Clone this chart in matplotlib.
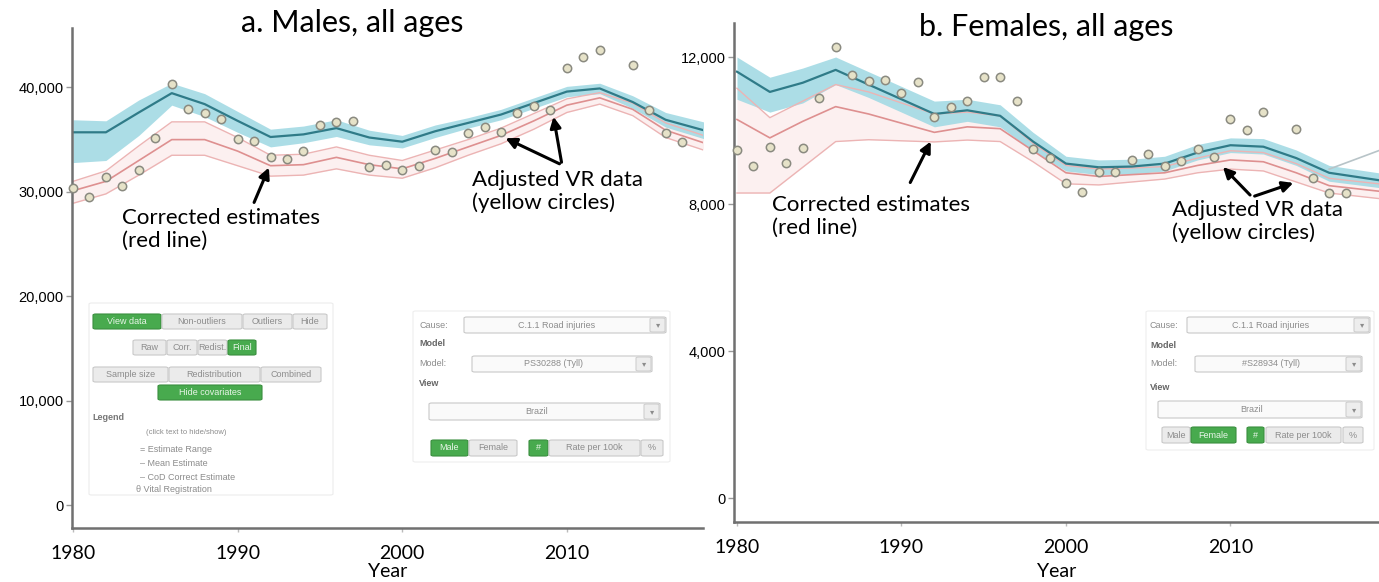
import matplotlib
matplotlib.use("Agg")
import matplotlib.pyplot as plt
from matplotlib.patches import FancyBboxPatch

W, H = 1379, 582

# ---- Males (panel a), deaths ----
male_years = [1980, 1982, 1984, 1986, 1988, 1990, 1992, 1994, 1996, 1998,
              2000, 2002, 2004, 2006, 2008, 2010, 2012, 2014, 2016, 2018.3]
male_mean = [35700, 35700, 37600, 39450, 38400, 36800, 35250, 35500, 36100, 35200,
             34800, 35800, 36600, 37400, 38500, 39600, 39900, 38600, 36900, 35900]
male_hi = [36900, 36800, 38800, 40400, 39400, 37700, 36000, 36300, 36900, 35900,
           35400, 36400, 37100, 37900, 39000, 40100, 40400, 39200, 37600, 36700]
male_lo = [32800, 33000, 35400, 38300, 37200, 35700, 34300, 34700, 35300, 34500,
           34200, 35200, 36100, 36900, 38000, 39100, 39400, 38000, 36200, 35100]
male_red = [30100, 31000, 33000, 35000, 35000, 33900, 32500, 32600, 33300, 32600,
            32200, 33200, 34300, 35400, 36800, 38300, 39000, 37900, 35900, 34700]
male_red_hi = [31000, 32000, 34400, 36700, 36700, 35200, 33500, 33600, 34300, 33500,
               33000, 34000, 35000, 36100, 37500, 38900, 39500, 38500, 36600, 35400]
male_red_lo = [28900, 29800, 31600, 33500, 33500, 32500, 31500, 31600, 32200, 31600,
               31300, 32300, 33500, 34600, 36000, 37600, 38400, 37300, 35200, 34000]
male_vr_years = [1980, 1981, 1982, 1983, 1984, 1985, 1986, 1987, 1988, 1989, 1990,
                 1991, 1992, 1993, 1994, 1995, 1996, 1997, 1998, 1999, 2000, 2001,
                 2002, 2003, 2004, 2005, 2006, 2007, 2008, 2009, 2010, 2011, 2012,
                 2014, 2015, 2016, 2017]
male_vr = [30400, 29500, 31400, 30560, 32090, 35150, 40330, 37930, 37550, 36970, 35060,
           34870, 33330, 33140, 33910, 36400, 36690, 36780, 32380, 32570, 32090, 32470,
           34000, 33810, 35630, 36210, 35730, 37550, 38220, 37840, 41860, 42910, 43580,
           42150, 37840, 35630, 34770]

# ---- Females (panel b) ----
female_years = [1980, 1982, 1984, 1986, 1988, 1990, 1992, 1994, 1996, 1998,
                2000, 2002, 2004, 2006, 2008, 2010, 2012, 2014, 2016, 2019]
female_mean = [11600, 11050, 11300, 11650, 11250, 10850, 10450, 10550, 10400, 9700,
               9100, 9000, 9020, 9100, 9400, 9600, 9560, 9250, 8850, 8650]
female_hi = [12000, 11450, 11700, 12000, 11600, 11200, 10800, 10850, 10700, 9950,
             9300, 9200, 9220, 9300, 9620, 9800, 9780, 9470, 9050, 8850]
female_lo = [10850, 10500, 10750, 11250, 10900, 10500, 10100, 10250, 10100, 9450,
             8900, 8800, 8820, 8900, 9200, 9400, 9360, 9050, 8620, 8450]
# faint upper bound that opens up at the end of the series
female_hi_tail_years = [2016, 2019]
female_hi_tail = [8950, 9450]
female_red = [10300, 9800, 10250, 10650, 10450, 10200, 9950, 10100, 10050, 9450,
              8850, 8750, 8800, 8850, 9050, 9200, 9150, 8850, 8500, 8350]
female_red_hi = [11150, 10350, 10800, 11250, 11050, 10750, 10450, 10500, 10400, 9650,
                 9050, 8950, 8980, 9020, 9250, 9450, 9400, 9100, 8700, 8550]
female_red_lo = [8300, 8300, 9000, 9700, 9750, 9720, 9690, 9740, 9700, 9150,
                 8550, 8520, 8600, 8680, 8850, 8950, 8900, 8600, 8300, 8150]
female_vr_years = [1980, 1981, 1982, 1983, 1984, 1985, 1986, 1987, 1988, 1989, 1990,
                   1991, 1992, 1993, 1994, 1995, 1996, 1997, 1998, 1999, 2000, 2001,
                   2002, 2003, 2004, 2005, 2006, 2007, 2008, 2009, 2010, 2011, 2012,
                   2014, 2015, 2016, 2017]
female_vr = [9470, 9030, 9550, 9120, 9520, 10880, 12270, 11510, 11350, 11370, 11020,
             11320, 10370, 10640, 10800, 11460, 11460, 10800, 9500, 9260, 8570, 8330,
             8870, 8870, 9200, 9360, 9030, 9170, 9500, 9280, 10310, 10010, 10500,
             10040, 8710, 8300, 8300]

x_ticks = [1980, 1990, 2000, 2010]
male_yticks = [0, 10000, 20000, 30000, 40000]
female_yticks = [0, 4000, 8000, 12000]

SANS = ["Lato", "DejaVu Sans"]
ARIAL = ["Liberation Sans", "DejaVu Sans"]

fig = plt.figure(figsize=(W / 100, H / 100), dpi=100)


def px_rect(l, t, r, b):
    return [l / W, 1 - b / H, (r - l) / W, (b - t) / H]


def fx(x):
    return x / W


def fy(y):
    return 1 - y / H


def draw_panel(ax, years, mean, lo, hi, red, red_lo, red_hi, vr_years, vr, yticks,
               labelpad):
    ax.fill_between(years, red_lo, red_hi, color="#fbe6e6", lw=0, alpha=0.6)
    ax.plot(years, red_lo, color="#ecb4b4", lw=1.0)
    ax.plot(years, red_hi, color="#ecb4b4", lw=1.0)
    ax.plot(years, red, color="#de9090", lw=1.2)
    ax.fill_between(years, lo, hi, color="#a3dae4", lw=0, alpha=0.9)
    ax.plot(years, mean, color="#2f7b88", lw=1.6)
    ax.plot(vr_years, vr, "o", ms=6, mfc="#e6e2c8", mec="#8a8a80", mew=1.1,
            clip_on=False, zorder=5)
    for s in ("top", "right"):
        ax.spines[s].set_visible(False)
    for s in ("left", "bottom"):
        ax.spines[s].set_color("#707070")
        ax.spines[s].set_linewidth(1.8)
    ax.set_yticks(yticks)
    ax.set_yticklabels([f"{v:,}" for v in yticks], fontfamily=ARIAL, fontsize=10.5)
    ax.set_xticks(x_ticks)
    ax.set_xticklabels([str(v) for v in x_ticks], fontfamily=SANS, fontsize=14)
    ax.tick_params(axis="y", length=4, width=1, color="#999999", pad=2)
    ax.tick_params(axis="x", length=3, width=1, color="#bbbbbb", pad=9)
    ax.set_xlabel("Year", fontfamily=SANS, fontsize=14, labelpad=labelpad)


axL = fig.add_axes(px_rect(72, 28, 703, 528))
draw_panel(axL, male_years, male_mean, male_lo, male_hi, male_red, male_red_lo,
           male_red_hi, male_vr_years, male_vr, male_yticks, 1)
axL.set_xlim(1979.94, 2018.27)
axL.set_ylim(-2200, 45690)

axR = fig.add_axes(px_rect(734, 23, 1379, 522))
draw_panel(axR, female_years, female_mean, female_lo, female_hi, female_red,
           female_red_lo, female_red_hi, female_vr_years, female_vr, female_yticks, 5)
axR.plot(female_hi_tail_years, female_hi_tail, color="#b8c4c8", lw=1.2)
axR.set_xlim(1979.82, 2019.03)
axR.set_ylim(-650, 12925)

# titles
fig.text(fx(352), fy(23), "a. Males, all ages", fontfamily=SANS, fontsize=22,
         ha="center", va="center")
fig.text(fx(1046), fy(27), "b. Females, all ages", fontfamily=SANS, fontsize=22,
         ha="center", va="center")


# annotations (figure pixel positions)
def arrow(x0, y0, x1, y1):
    fig.add_artist(matplotlib.patches.FancyArrowPatch(
        (fx(x0), fy(y0)), (fx(x1), fy(y1)), transform=fig.transFigure,
        arrowstyle="-|>", mutation_scale=16, lw=2.2, color="black", zorder=10))


fig.text(fx(122), fy(208), "Corrected estimates\n(red line)", fontfamily=SANS,
         fontsize=16, va="top", ha="left", linespacing=1.15)
arrow(253, 205, 270, 165)
fig.text(fx(472), fy(170), "Adjusted VR data\n(yellow circles)", fontfamily=SANS,
         fontsize=16, va="top", ha="left", linespacing=1.15)
arrow(562, 165, 503, 137)
arrow(562, 165, 553, 114)

fig.text(fx(772), fy(195), "Corrected estimates\n(red line)", fontfamily=SANS,
         fontsize=16, va="top", ha="left", linespacing=1.15)
arrow(909, 185, 932, 139)
fig.text(fx(1172), fy(200), "Adjusted VR data\n(yellow circles)", fontfamily=SANS,
         fontsize=16, va="top", ha="left", linespacing=1.15)
arrow(1252, 197, 1221, 165)
arrow(1252, 197, 1296, 182)


# ---- screenshot control widgets ----
def box(l, t, r, b, fc="#ebebeb", ec="#c9c9c9", lw=0.8, rnd=0.002):
    fig.patches.append(FancyBboxPatch(
        (fx(l), fy(b)), (r - l) / W, (b - t) / H,
        boxstyle=f"round,pad=0,rounding_size={rnd}", transform=fig.transFigure,
        fc=fc, ec=ec, lw=lw, zorder=3))


def label(x, y, s, size=6.5, color="#8c8c8c", ha="center", weight="normal"):
    fig.text(fx(x), fy(y), s, fontsize=size, color=color, ha=ha, va="center",
             fontfamily=ARIAL, fontweight=weight, zorder=4)


def button(l, t, r, b, s, green=False):
    if green:
        box(l, t, r, b, fc="#48aa4e", ec="#3a8f3f")
        label((l + r) / 2, (t + b) / 2, s, color="#e8f5e8")
    else:
        box(l, t, r, b)
        label((l + r) / 2, (t + b) / 2, s)


def dropdown(l, t, r, b, s):
    box(l, t, r, b, fc="#fafafa", ec="#c9c9c9")
    box(r - 16, t + 1, r - 1, b - 1, fc="#ededed", ec="#cfcfcf")
    label(r - 8, (t + b) / 2 + 1, "\u25be", size=6)
    label((l + r - 16) / 2, (t + b) / 2, s)


# left widget block in panel a
box(89, 303, 333, 495, fc="white", ec="#ececec", lw=0.8)
button(93, 314, 161, 329, "View data", green=True)
button(162, 314, 242, 329, "Non-outliers")
button(243, 314, 292, 329, "Outliers")
button(293, 314, 327, 329, "Hide")
button(133, 340, 166, 355, "Raw")
button(167, 340, 197, 355, "Corr.")
button(198, 340, 227, 355, "Redist.")
button(228, 340, 256, 355, "Final", green=True)
button(93, 367, 168, 382, "Sample size")
button(169, 367, 260, 382, "Redistribution")
button(261, 367, 321, 382, "Combined")
button(158, 385, 262, 400, "Hide covariates", green=True)
label(92, 417, "Legend", ha="left", color="#777777", weight="bold")
label(146, 432, "(click text to hide/show)", ha="left", size=5.5)
label(140, 450, "= Estimate Range", ha="left")
label(140, 463, "\u2013 Mean Estimate", ha="left")
label(140, 477, "\u2013 CoD Correct Estimate", ha="left")
label(136, 490, "\u03b8 Vital Registration", ha="left")


def model_block(x0, cause_l, cause_r, model_l, model_r, view_l, view_r, rows, dy,
                model_name, female):
    label(x0, 325, "Cause:", ha="left")
    dropdown(cause_l, 317, cause_r, 333, "C.1.1 Road injuries")
    label(x0, 344 + dy[0], "Model", ha="left", color="#666666", weight="bold")
    label(x0, 364 + dy[1], "Model:", ha="left")
    dropdown(model_l, 356 + dy[1], model_r, 372 + dy[1], model_name)
    label(x0, 384 + dy[2], "View", ha="left", color="#666666", weight="bold")
    dropdown(view_l, 403 + dy[3], view_r, 420 + dy[3], "Brazil")
    (m0, m1, f0, f1, h0, h1, r0, r1, p0, p1), yb = rows
    button(m0, yb, m1, yb + 16, "Male", green=not female)
    button(f0, yb, f1, yb + 16, "Female", green=female)
    button(h0, yb, h1, yb + 16, "#", green=True)
    button(r0, yb, r1, yb + 16, "Rate per 100k")
    button(p0, yb, p1, yb + 16, "%")


box(413, 311, 670, 462, fc="white", ec="#eeeeee", lw=0.8)
model_block(419, 464, 666, 472, 652, 429, 660,
            ((431, 468, 469, 517, 529, 548, 549, 640, 641, 663), 440),
            (0, 0, 0, 0), "PS30288 (Tyll)", female=False)

box(1146, 311, 1374, 450, fc="white", ec="#eeeeee", lw=0.8)
model_block(1150, 1187, 1370, 1195, 1362, 1158, 1362,
            ((1162, 1190, 1191, 1236, 1247, 1264, 1266, 1341, 1343, 1363), 427),
            (2, 0, 4, -2), "#S28934 (Tyll)", female=True)

fig.savefig("out.png", dpi=100)
